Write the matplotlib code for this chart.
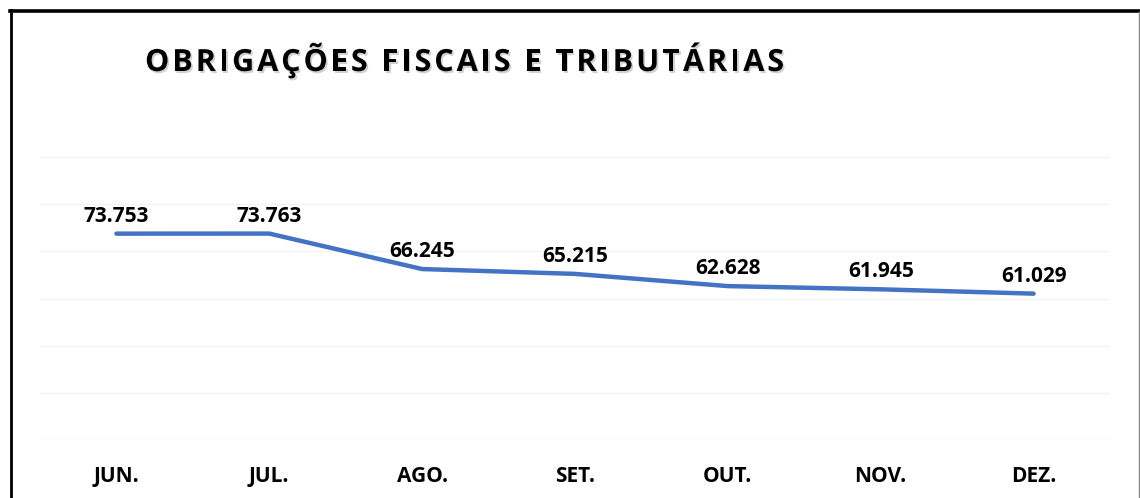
import matplotlib
matplotlib.use("Agg")
import matplotlib.pyplot as plt
import matplotlib.patheffects as pe
from matplotlib.lines import Line2D

meses = ['JUN.', 'JUL.', 'AGO.', 'SET.', 'OUT.', 'NOV.', 'DEZ.']
valores = [73.753, 73.763, 66.245, 65.215, 62.628, 61.945, 61.029]
rotulos = ['73.753', '73.763', '66.245', '65.215', '62.628', '61.945', '61.029']
titulo = 'OBRIGAÇÕES FISCAIS E TRIBUTÁRIAS'

plt.rcParams['font.family'] = ['Open Sans', 'DejaVu Sans']

fig = plt.figure(figsize=(11.4, 4.98), dpi=100)
ax = fig.add_axes([40 / 1140, 58 / 498, 1070 / 1140, 283 / 498])

x = list(range(len(meses)))
ax.plot(x, valores, color='#4472C4', linewidth=3.2, solid_capstyle='round',
        solid_joinstyle='round', zorder=3)

for xi, v, r in zip(x, valores, rotulos):
    ax.annotate(r, (xi, v), xytext=(0, 5), textcoords='offset points',
                ha='center', va='bottom', fontsize=15, fontweight='bold',
                color='black')

ax.set_xlim(-0.5, len(meses) - 0.5)
ax.set_ylim(30, 90)
ax.set_yticks([30, 40, 50, 60, 70, 80, 90])
ax.grid(axis='y', color='#f2f2f2', linewidth=1)
ax.set_axisbelow(True)
ax.set_xticks(x)
ax.set_xticklabels(meses, fontsize=15, fontweight='bold')
ax.tick_params(axis='x', length=0, pad=18.5)
ax.tick_params(axis='y', length=0, labelleft=False)
for s in ax.spines.values():
    s.set_visible(False)

# titulo com espaçamento entre letras e sombra
renderer = fig.canvas.get_renderer()
sombra = [pe.withSimplePatchShadow(offset=(1.2, -1.5), shadow_rgbFace='#999999',
                                   alpha=0.45)]
px = 145.0
espaco = 3.0
for ch in titulo:
    t = fig.text(px / 1140, 1 - 63 / 498, ch, ha='left', va='center',
                 fontsize=22, fontweight='bold', color='black',
                 path_effects=sombra)
    if ch == ' ':
        w = 8.0
    else:
        w = t.get_window_extent(renderer=renderer).width
    px += w + espaco

# moldura
fig.add_artist(Line2D([10 / 1140, 1.0], [1 - 11.5 / 498] * 2,
                      transform=fig.transFigure, color='black', linewidth=2.6))
fig.add_artist(Line2D([11 / 1140] * 2, [0, 1 - 10 / 498],
                      transform=fig.transFigure, color='black', linewidth=2.0))
fig.add_artist(Line2D([1138.5 / 1140] * 2, [0, 1 - 12 / 498],
                      transform=fig.transFigure, color='#888888', linewidth=1.0))

fig.savefig('out.png', dpi=100)
